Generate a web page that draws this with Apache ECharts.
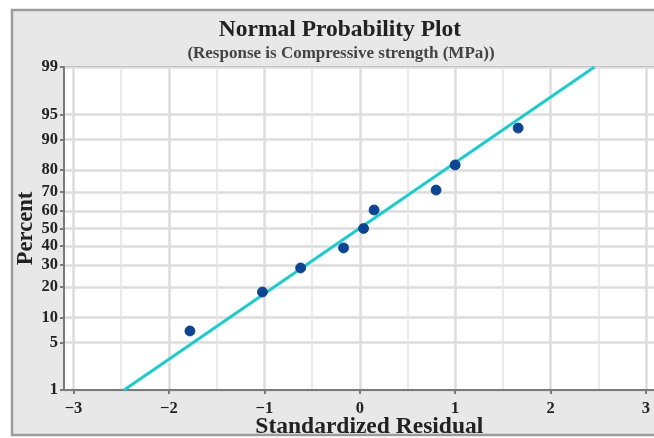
<!DOCTYPE html>
<html>
<head>
<meta charset="utf-8">
<script src="https://cdn.jsdelivr.net/npm/echarts@6/dist/echarts.min.js"></script>
<style>
  html, body { margin: 0; padding: 0; background: #ffffff; }
  #chart { width: 654px; height: 438px; }
</style>
</head>
<body>
<div id="chart"></div>
<script>
// Standardized residuals and their plotting positions (percent)
const residuals = [-1.78, -1.02, -0.62, -0.17, 0.04, 0.15, 0.80, 1.00, 1.66];
const percents  = [7.0, 18.0, 28.5, 39.0, 50.0, 60.5, 71.0, 82.0, 92.6];

// Fitted normal reference line, endpoints (residual, percent)
const fitResiduals = [-2.47, 2.46];
const fitPercents  = [1, 99];

// Axis ticks
const percentTicks = [1, 5, 10, 20, 30, 40, 50, 60, 70, 80, 90, 95, 99];
const residualTicks = [-3, -2, -1, 0, 1, 2, 3];
const residualHalfTicks = [-2.5, -1.5, -0.5, 0.5, 1.5, 2.5];

// Inverse standard normal CDF (Acklam's rational approximation)
function probit(p) {
  const a = [-3.969683028665376e+01, 2.209460984245205e+02, -2.759285104469687e+02,
             1.383577518672690e+02, -3.066479806614716e+01, 2.506628277459239e+00];
  const b = [-5.447609879822406e+01, 1.615858368580409e+02, -1.556989798598866e+02,
             6.680131188771972e+01, -1.328068155288572e+01];
  const c = [-7.784894002430293e-03, -3.223964580411365e-01, -2.400758277161838e+00,
             -2.549732539343734e+00, 4.374664141464968e+00, 2.938163982698783e+00];
  const d = [7.784695709041462e-03, 3.224671290700398e-01, 2.445134137142996e+00,
             3.754408661907416e+00];
  const pl = 0.02425, ph = 1 - pl;
  let q, r;
  if (p < pl) {
    q = Math.sqrt(-2 * Math.log(p));
    return (((((c[0]*q+c[1])*q+c[2])*q+c[3])*q+c[4])*q+c[5]) /
           ((((d[0]*q+d[1])*q+d[2])*q+d[3])*q+1);
  }
  if (p <= ph) {
    q = p - 0.5; r = q * q;
    return (((((a[0]*r+a[1])*r+a[2])*r+a[3])*r+a[4])*r+a[5])*q /
           (((((b[0]*r+b[1])*r+b[2])*r+b[3])*r+b[4])*r+1);
  }
  q = Math.sqrt(-2 * Math.log(1 - p));
  return -(((((c[0]*q+c[1])*q+c[2])*q+c[3])*q+c[4])*q+c[5]) /
          ((((d[0]*q+d[1])*q+d[2])*q+d[3])*q+1);
}
const z = pct => probit(pct / 100);

const yTickValues = percentTicks.map(z);
const yMin = z(percentTicks[0]);
const yMax = z(percentTicks[percentTicks.length - 1]);

const pointData = residuals.map((r, i) => [r, z(percents[i])]);
const lineData = fitResiduals.map((r, i) => [r, z(fitPercents[i])]);

const serif = '"Liberation Serif", "DejaVu Serif", serif';
const axisGrey = '#7a7a7a';

const chart = echarts.init(document.getElementById('chart'), null, { renderer: 'canvas' });
chart.setOption({
  animation: false,
  backgroundColor: '#ffffff',
  graphic: [{
    type: 'rect',
    z: -10,
    shape: { x: 12, y: 10, width: 680, height: 425 },
    style: { fill: '#e8e8e8', stroke: '#9c9c9c', lineWidth: 2.5 }
  }],
  title: [{
    text: 'Normal Probability Plot',
    left: 335, top: 13, textAlign: 'center',
    textStyle: { fontFamily: serif, fontWeight: 'bold', fontSize: 23.5, color: '#222' }
  }, {
    text: '(Response is Compressive strength (MPa))',
    left: 336, top: 40, textAlign: 'center',
    textStyle: { fontFamily: serif, fontWeight: 'bold', fontSize: 17, color: '#444' }
  }],
  grid: {
    left: 64, top: 67, width: 610.6, height: 323,
    outerBoundsMode: 'none',
    show: true, backgroundColor: '#ffffff', borderColor: axisGrey, borderWidth: 2
  },
  xAxis: [{
    type: 'value', min: -3.1, max: 3.3,
    name: 'Standardized Residual', nameLocation: 'middle', nameGap: 25,
    nameMoveOverlap: false,
    nameTextStyle: { fontFamily: serif, fontWeight: 'bold', fontSize: 23.5, color: '#222' },
    axisLine: { show: true, onZero: false, lineStyle: { color: axisGrey, width: 2 } },
    axisTick: { show: true, customValues: residualTicks, length: 4, lineStyle: { color: axisGrey, width: 2 } },
    axisLabel: {
      customValues: residualTicks, margin: 10,
      fontFamily: serif, fontWeight: 'bold', fontSize: 16.5, color: '#222',
      formatter: v => (v < 0 ? '\u2212' + Math.abs(v) : String(v))
    },
    splitLine: { show: true, lineStyle: { color: '#dddddd', width: 2.5 } }
  }, {
    type: 'value', min: -3.1, max: 3.3, position: 'bottom',
    axisLine: { show: false }, axisLabel: { show: false },
    axisTick: { show: false, customValues: residualHalfTicks },
    splitLine: { show: true, lineStyle: { color: '#e4e4e4', width: 1.5 } }
  }],
  yAxis: {
    type: 'value', min: yMin, max: yMax,
    name: 'Percent', nameLocation: 'middle', nameGap: 26, nameRotate: 90,
    nameMoveOverlap: false,
    nameTextStyle: { fontFamily: serif, fontWeight: 'bold', fontSize: 22.5, color: '#222' },
    axisLine: { show: true, onZero: false, lineStyle: { color: axisGrey, width: 2 } },
    axisTick: { show: true, customValues: yTickValues, length: 4, lineStyle: { color: axisGrey, width: 2 } },
    axisLabel: {
      customValues: yTickValues, margin: 6,
      fontFamily: serif, fontWeight: 'bold', fontSize: 16.5, color: '#222',
      formatter: v => {
        const i = yTickValues.findIndex(t => Math.abs(t - v) < 1e-6);
        return i >= 0 ? String(percentTicks[i]) : '';
      }
    },
    splitLine: { show: true, lineStyle: { color: '#dddddd', width: 2.5 } }
  },
  series: [{
    type: 'line',
    data: lineData,
    symbol: 'none',
    lineStyle: { color: '#14cfcf', width: 2.8 },
    z: 2
  }, {
    type: 'scatter',
    data: pointData,
    symbol: 'circle',
    symbolSize: 10,
    itemStyle: { color: '#0b4596', borderColor: '#083a80', borderWidth: 0.8, opacity: 1 },
    z: 3
  }]
});
</script>
</body>
</html>
